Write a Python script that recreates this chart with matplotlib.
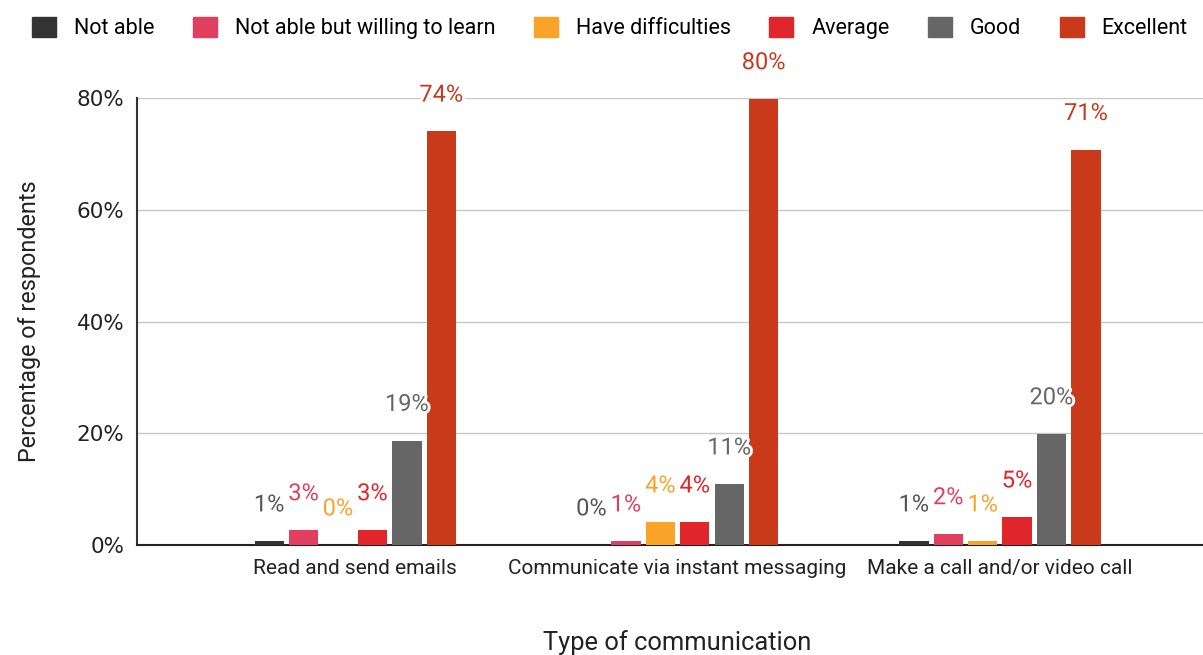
import numpy as np
import matplotlib.pyplot as plt
import matplotlib.patheffects as pe
from matplotlib.patches import Patch

# Daten
categories = ["Read and send emails", "Communicate via instant messaging", "Make a call and/or video call"]
series = ["Not able", "Not able but willing to learn", "Have difficulties", "Average", "Good", "Excellent"]
not_able    = [0.7, 0.0, 0.7]
willing     = [2.7, 0.7, 2.0]
difficult   = [0.0, 4.1, 0.7]
average     = [2.7, 4.1, 5.0]
good        = [18.7, 10.9, 19.9]
excellent   = [74.1, 79.9, 70.8]
lbl_not_able  = ["1%", "0%", "1%"]
lbl_willing   = ["3%", "1%", "2%"]
lbl_difficult = ["0%", "4%", "1%"]
lbl_average   = ["3%", "4%", "5%"]
lbl_good      = ["19%", "11%", "20%"]
lbl_excellent = ["74%", "80%", "71%"]
yticks = [0, 20, 40, 60, 80]
ytick_labels = ["0%", "20%", "40%", "60%", "80%"]

values = [not_able, willing, difficult, average, good, excellent]
labels = [lbl_not_able, lbl_willing, lbl_difficult, lbl_average, lbl_good, lbl_excellent]
colors = ["#333333", "#e0405e", "#f9a328", "#e0262b", "#666666", "#c93a1b"]
text_colors = ["#555555", "#e0405e", "#f9a328", "#e0262b", "#666666", "#c93a1b"]

plt.rcParams['font.family'] = ['Roboto', 'DejaVu Sans']

fig = plt.figure(figsize=(12.03, 6.55), dpi=100)
ax = fig.add_axes([0.1139, 0.168, 0.8861, 0.682])

x = np.arange(len(categories))
pitch = 0.1068
width = 0.091
for i, (vals, lbls) in enumerate(zip(values, labels)):
    pos = x + (i - 2.5) * pitch
    ax.bar(pos, vals, width=width, color=colors[i], zorder=3)
    for px, v, t in zip(pos, vals, lbls):
        ax.annotate(t, (px, v), xytext=(0, 26), textcoords="offset points",
                    ha="center", va="center", fontsize=17, color=text_colors[i],
                    clip_on=False, zorder=5,
                    path_effects=[pe.withStroke(linewidth=4, foreground="white")])

ax.set_ylim(0, 80)
ax.set_xlim(-0.677, 2.63)
ax.set_yticks(yticks)
ax.set_yticklabels(ytick_labels, fontsize=15.5, color="#222222", family="DejaVu Sans")
ax.set_xticks(x)
ax.set_xticklabels(categories, fontsize=15, color="#222222")
ax.tick_params(length=0)
ax.tick_params(axis="x", pad=10)
ax.tick_params(axis="y", pad=9)
ax.grid(axis="y", color="#c8c8c8", linewidth=1, zorder=0)
for s in ["top", "right"]:
    ax.spines[s].set_visible(False)
ax.spines["left"].set_color("#333333")
ax.spines["bottom"].set_color("#222222")
ax.spines["left"].set_linewidth(1.5)
ax.spines["bottom"].set_linewidth(1.5)

ax.set_ylabel("Percentage of respondents", fontsize=16.8, color="#222222")
ax.yaxis.set_label_coords(-0.09, 0.5)
ax.set_xlabel("Type of communication", fontsize=18.4, color="#222222")
ax.xaxis.set_label_coords(0.507, -0.19)

handles = [Patch(facecolor=c, edgecolor=c) for c in colors]
fig.legend(handles, series, loc="center left", bbox_to_anchor=(32 / 1203, 1 - 28 / 655), ncol=6,
           frameon=False, fontsize=15.5, handlelength=1.1, handleheight=1.1,
           handletextpad=0.84, columnspacing=1.8, borderaxespad=0, borderpad=0)

fig.savefig("out.png", dpi=100)
